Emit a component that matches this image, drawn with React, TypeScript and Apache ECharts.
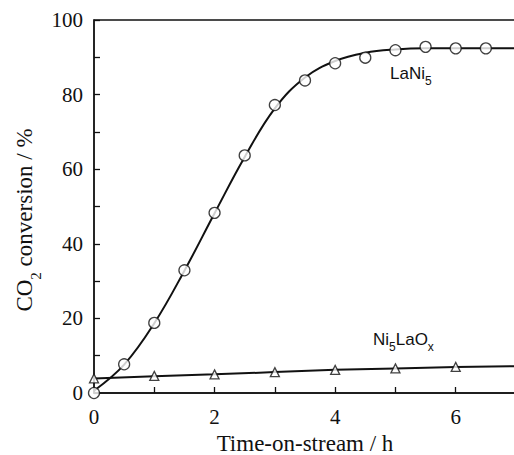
import React, { useEffect, useRef } from "react";
import * as echarts from "echarts";

const laNi5Points: [number, number][] = [
  [0, 0], [0.5, 7.7], [1, 18.8], [1.5, 32.9], [2, 48.3], [2.5, 63.7], [3, 77.2],
  [3.5, 83.8], [4, 88.4], [4.5, 89.9], [5, 91.9], [5.5, 92.8], [6, 92.4], [6.5, 92.4],
];
const laNi5Curve: [number, number][] = [
  [0, 0.6], [0.5, 7.6], [1, 18.7], [1.5, 32.8], [2, 48.2], [2.5, 63.3], [3, 76.3],
  [3.5, 84.6], [4, 89.0], [4.5, 91.2], [5, 92.1], [5.5, 92.4], [6, 92.4], [7, 92.4],
];
const ni5LaOxPoints: [number, number][] = [
  [0, 3.9], [1, 4.6], [2, 5.0], [3, 5.6], [4, 6.2], [5, 6.6], [6, 7.0],
];
const ni5LaOxLine: [number, number][] = [
  [0, 3.9], [1, 4.5], [2, 5.0], [3, 5.6], [4, 6.2], [5, 6.6], [6, 7.0], [7, 7.2],
];
const xTickLabels = ["0", "", "2", "", "4", "", "6", ""];
const yTickLabels = ["0", "20", "40", "60", "80", "100"];

export default function App() {
  const ref = useRef<HTMLDivElement>(null);
  useEffect(() => {
    if (!ref.current) return;
    const chart = echarts.init(ref.current, null, { renderer: "svg" });
    const serif = "Liberation Serif";
    const sans = "Liberation Sans";
    const annRich = {
      n: { fontFamily: sans, fontSize: 17, fill: "#111", verticalAlign: "bottom", lineHeight: 20 },
      s: { fontFamily: sans, fontSize: 12, fill: "#111", verticalAlign: "bottom", lineHeight: 12, padding: [0, 0, -5, 0] },
    };
    chart.setOption({
      animation: false,
      backgroundColor: "#fff",
      grid: {
        left: 94, top: 20, width: 422, bottom: 62, outerBoundsMode: "none", containLabel: false,
        show: true, borderColor: "#111", borderWidth: 1.3, backgroundColor: "transparent",
      },
      xAxis: {
        type: "value", min: 0, max: 7, interval: 1,
        name: "Time-on-stream / h", nameLocation: "middle", nameGap: 36,
        nameTextStyle: { fontFamily: serif, fontSize: 23, color: "#111" },
        axisLine: { lineStyle: { color: "#111", width: 1.5 } },
        axisTick: { inside: true, length: 6, lineStyle: { color: "#111", width: 1.3 } },
        axisLabel: {
          margin: 13, fontFamily: serif, fontSize: 21, color: "#111",
          formatter: (v: number) => xTickLabels[Math.round(v)] ?? "",
          showMaxLabel: false,
        },
        splitLine: { show: false },
      },
      yAxis: {
        type: "value", min: 0, max: 100, interval: 20,
        axisLine: { lineStyle: { color: "#111", width: 1.5 } },
        axisTick: { inside: true, length: 6, lineStyle: { color: "#111", width: 1.3 } },
        minorTick: { show: true, splitNumber: 2, length: 6, lineStyle: { color: "#111", width: 1.3 } },
        axisLabel: {
          margin: 11, fontFamily: serif, fontSize: 21, color: "#111",
          formatter: (v: number) => yTickLabels[Math.round(v / 20)] ?? "",
        },
        splitLine: { show: false },
      },
      series: [
        {
          type: "line", data: laNi5Curve, smooth: 0.4, showSymbol: false, symbol: "none",
          lineStyle: { color: "#111", width: 2 }, z: 2,
        },
        {
          type: "scatter", data: laNi5Points, symbol: "circle", symbolSize: 11,
          itemStyle: { color: "#fff", borderColor: "#111", borderWidth: 1.3 }, z: 3,
        },
        {
          type: "line", data: ni5LaOxLine, showSymbol: false, symbol: "none",
          lineStyle: { color: "#111", width: 2 }, z: 2,
        },
        {
          type: "scatter", data: ni5LaOxPoints, symbol: "triangle", symbolSize: 9,
          itemStyle: { color: "#fff", borderColor: "#111", borderWidth: 1.3 }, z: 3,
        },
      ],
      graphic: [
        {
          type: "text", x: 23, y: 220, rotation: Math.PI / 2,
          style: {
            text: "{n|CO}{s|2}{n| conversion / %}", align: "center", verticalAlign: "middle",
            rich: {
              n: { fontFamily: serif, fontSize: 23, fill: "#111", verticalAlign: "bottom", lineHeight: 26 },
              s: { fontFamily: serif, fontSize: 15, fill: "#111", verticalAlign: "bottom", lineHeight: 15, padding: [0, 0, -7, 0] },
            },
          },
        },
        { type: "text", x: 390, y: 62, style: { rich: annRich, text: "{n|LaNi}{s|5}" } },
        { type: "text", x: 373, y: 328, style: { rich: annRich, text: "{n|Ni}{s|5}{n|LaO}{s|x}" } },
      ],
    });
    return () => chart.dispose();
  }, []);
  return <div ref={ref} style={{ position: "absolute", left: 0, top: 0, width: 514, height: 455 }} />;
}
